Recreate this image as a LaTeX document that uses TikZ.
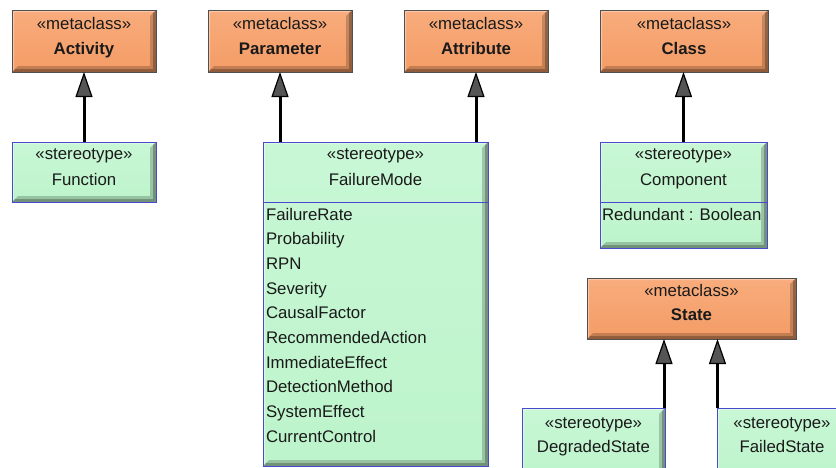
\documentclass[tikz,border=0pt]{standalone}
\usepackage{fontspec}
\setmainfont{Liberation Sans}
\usetikzlibrary{arrows.meta}

\definecolor{metafill}{HTML}{F49C66}
\definecolor{metatop}{HTML}{F8AC7C}
\definecolor{metaedge}{HTML}{505050}
\definecolor{stereofill}{HTML}{BDF4CB}
\definecolor{stereotop}{HTML}{C8F7D5}
\definecolor{stereoedge}{HTML}{4A4AD0}
\definecolor{txt}{HTML}{1A1A1A}
\definecolor{tipfill}{HTML}{555555}

\tikzset{
  % raised look: dark bands along right and bottom, light band along top and left
  bevel/.style={path picture={
    \fill[black,opacity=.2]
      (path picture bounding box.north east) -- (path picture bounding box.south east)
      -- (path picture bounding box.south west)
      -- ([xshift=6pt,yshift=6pt]path picture bounding box.south west)
      -- ([xshift=-6pt,yshift=6pt]path picture bounding box.south east)
      -- ([xshift=-6pt,yshift=-6pt]path picture bounding box.north east) -- cycle;
    \fill[black,opacity=.25]
      (path picture bounding box.north east) -- (path picture bounding box.south east)
      -- (path picture bounding box.south west)
      -- ([xshift=3pt,yshift=3pt]path picture bounding box.south west)
      -- ([xshift=-3pt,yshift=3pt]path picture bounding box.south east)
      -- ([xshift=-3pt,yshift=-3pt]path picture bounding box.north east) -- cycle;
    \fill[white,opacity=.35]
      (path picture bounding box.south west) -- (path picture bounding box.north west)
      -- (path picture bounding box.north east)
      -- ([xshift=-2pt,yshift=-2pt]path picture bounding box.north east)
      -- ([xshift=2pt,yshift=-2pt]path picture bounding box.north west)
      -- ([xshift=2pt,yshift=2pt]path picture bounding box.south west) -- cycle;
  }},
  metabox/.style={rectangle, inner sep=0pt, outer sep=0pt, draw=metaedge, line width=1pt,
    top color=metatop, bottom color=metafill, bevel},
  stereobox/.style={rectangle, inner sep=0pt, outer sep=0pt, draw=stereoedge, line width=0.8pt,
    top color=stereotop, bottom color=stereofill, bevel},
  lbl/.style={inner sep=0pt, outer sep=0pt, text=txt, anchor=base,
    font=\fontsize{16.8}{19}\selectfont},
  boldlbl/.style={lbl, font=\fontsize{16.8}{19}\selectfont\bfseries},
  attr/.style={lbl, anchor=base west},
  divider/.style={draw=stereoedge, line width=0.8pt},
  gen/.style={line width=3pt, black,
    -{Triangle[width=17pt, length=25pt, line width=1.2pt, fill=tipfill]}},
}

\begin{document}
\begin{tikzpicture}[x=1pt, y=-1pt]
  \path[use as bounding box] (0,0) rectangle (836,467);
  \clip (0,0) rectangle (836,467);

  % metaclasses
  \node[metabox, minimum width=144pt, minimum height=62pt] (act) at (84,41) {};
  \node[metabox, minimum width=144pt, minimum height=62pt] (par) at (280,41) {};
  \node[metabox, minimum width=144pt, minimum height=62pt] (att) at (476,41) {};
  \node[metabox, minimum width=168pt, minimum height=62pt] (cls) at (684,41) {};
  \node[metabox, minimum width=209pt, minimum height=61pt] (state) at (691.5,308.5) {};

  \node[lbl] (actS) at (84,29) {«metaclass»};
  \node[boldlbl] (actN) at (84,54) {Activity};
  \node[lbl] (parS) at (280,29) {«metaclass»};
  \node[boldlbl] (parN) at (280,54) {Parameter};
  \node[lbl] (attS) at (476,29) {«metaclass»};
  \node[boldlbl] (attN) at (476,54) {Attribute};
  \node[lbl] (clsS) at (684,29) {«metaclass»};
  \node[boldlbl] (clsN) at (684,54) {Class};
  \node[lbl] (stateS) at (691.5,296) {«metaclass»};
  \node[boldlbl] (stateN) at (691.5,320) {State};

  % stereotypes
  \node[stereobox, minimum width=144pt, minimum height=60pt] (fun) at (84,172) {};
  \node[stereobox, minimum width=225pt, minimum height=324pt] (fm) at (375.5,304) {};
  \node[stereobox, minimum width=167pt, minimum height=106pt] (comp) at (683.5,195) {};
  \node[stereobox, minimum width=143pt, minimum height=72pt] (deg) at (593.5,444) {};
  \node[stereobox, minimum width=130pt, minimum height=72pt] (fail) at (782,444) {};

  \draw[divider] (fun.south -| fm.west) -- (fun.south -| fm.east);
  \draw[divider] (fun.south -| comp.west) -- (fun.south -| comp.east);

  \node[lbl] (funS) at (84,159) {«stereotype»};
  \node[lbl] (funN) at (84,185) {Function};
  \node[lbl] (fmS) at (375.5,159) {«stereotype»};
  \node[lbl] (fmN) at (375.5,185) {FailureMode};
  \node[lbl] (compS) at (683.5,159) {«stereotype»};
  \node[lbl] (compN) at (683.5,185) {Component};
  \node[attr] (compA) at (602,220) {Redundant : Boolean};
  \node[lbl] (degS) at (593.5,428) {«stereotype»};
  \node[lbl] (degN) at (593.5,452) {DegradedState};
  \node[lbl] (failS) at (782,428) {«stereotype»};
  \node[lbl] (failN) at (782,452) {FailedState};

  % FailureMode attributes
  \foreach \name [count=\i from 0] in {FailureRate, Probability, RPN, Severity,
      CausalFactor, RecommendedAction, ImmediateEffect, DetectionMethod,
      SystemEffect, CurrentControl}
    \node[attr] (fmA\i) at (266,220+24.67*\i) {\name};

  % generalizations
  \draw[gen] (fun.north) -- (act.south);
  \draw[gen] (fm.north -| par.south) -- (par.south);
  \draw[gen] (fm.north -| att.south) -- (att.south);
  \draw[gen] (comp.north) -- (comp.north |- cls.south);
  \draw[gen] ([xshift=-1pt]deg.north east) -- ([xshift=-1pt]deg.north east |- state.south);
  \draw[gen] ([xshift=0.5pt]fail.north west) -- ([xshift=0.5pt]fail.north west |- state.south);
\end{tikzpicture}
\end{document}
